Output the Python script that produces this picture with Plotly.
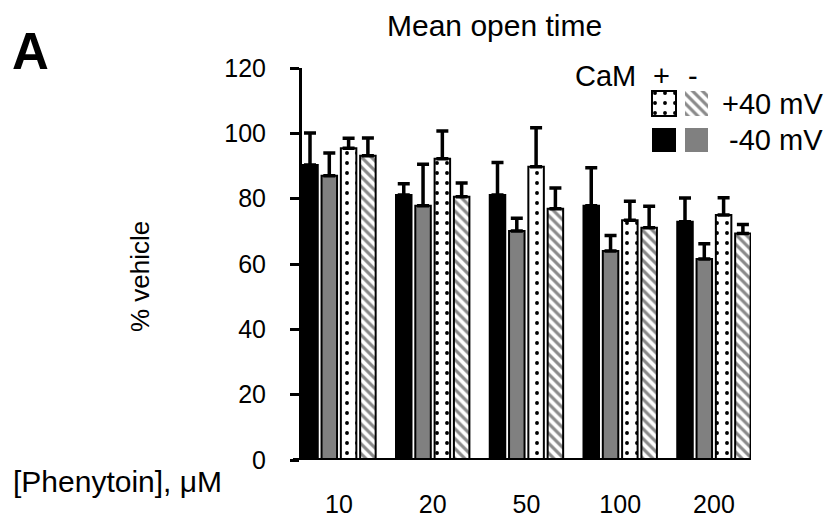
import plotly.graph_objects as go

# ---------------- data ----------------
concentrations = ["10", "20", "50", "100", "200"]

neg40_cam_plus = [90.3, 81.1, 81.1, 77.8, 72.9]
neg40_cam_plus_err = [9.8, 3.5, 10.0, 11.7, 7.3]
neg40_cam_minus = [87.0, 77.8, 70.1, 64.0, 61.5]
neg40_cam_minus_err = [7.0, 12.7, 3.9, 4.7, 4.7]
pos40_cam_plus = [95.4, 92.2, 89.8, 73.4, 75.0]
pos40_cam_plus_err = [3.1, 8.5, 11.9, 5.8, 5.3]
pos40_cam_minus = [93.1, 80.6, 76.9, 71.1, 69.3]
pos40_cam_minus_err = [5.5, 4.2, 6.4, 6.6, 2.8]

y_ticks = [0, 20, 40, 60, 80, 100, 120]

# ---------------- layout geometry ----------------
W, H = 834, 524
L, R, T, B = 302, 83, 68, 64
PW, PH = W - L - R, H - T - B
FONT = "Liberation Sans, Arial, sans-serif"

GROUP_PITCH = 93.75
BAR_PITCH = 19.3
BAR_W = 15.5
OFFSET0 = 8.0


def px_x(p):
    return (p - L) / PW


def px_y(p):
    return (H - B - p) / PH


def positions(j):
    return [OFFSET0 + GROUP_PITCH * g + BAR_PITCH * j for g in range(len(concentrations))]


tick_positions = [OFFSET0 + GROUP_PITCH * g + BAR_PITCH * 1.5 for g in range(len(concentrations))]

pattern_dots = dict(shape=".", fgcolor="black", bgcolor="white", size=10, solidity=0.12, fillmode="replace")
pattern_hatch = dict(shape="\\", fgcolor="#8a8a8a", bgcolor="white", size=7, solidity=0.45, fillmode="replace")

series = [
    (neg40_cam_plus, neg40_cam_plus_err, dict(color="black")),
    (neg40_cam_minus, neg40_cam_minus_err, dict(color="#808080")),
    (pos40_cam_plus, pos40_cam_plus_err, dict(color="white", pattern=pattern_dots)),
    (pos40_cam_minus, pos40_cam_minus_err, dict(color="white", pattern=pattern_hatch)),
]

fig = go.Figure()
for j, (vals, errs, mk) in enumerate(series):
    marker = dict(mk)
    marker["line"] = dict(color="black", width=2)
    fig.add_trace(go.Bar(
        x=positions(j), y=vals, width=BAR_W, marker=marker,
        error_y=dict(type="data", array=errs, arrayminus=[0] * len(errs), symmetric=False,
                     color="black", thickness=3.5, width=6),
        showlegend=False, hoverinfo="skip",
    ))

# legend swatches drawn in a small auxiliary subplot (pixel-like units)
sw_cols = [(652, 676), (685, 708)]
sw_rows = [(91, 116), (128, 152)]
sw_styles = [
    [dict(color="white", pattern=pattern_dots, line=dict(color="black", width=2)),
     dict(color="white", pattern=pattern_hatch, line=dict(width=0))],
    [dict(color="black", line=dict(width=0)),
     dict(color="#808080", line=dict(width=0))],
]
for r, (y0, y1) in enumerate(sw_rows):
    for c, (x0, x1) in enumerate(sw_cols):
        fig.add_trace(go.Bar(
            x=[(x0 + x1) / 2], y=[y1 - y0], base=[y0], width=[x1 - x0],
            marker=sw_styles[r][c], xaxis="x2", yaxis="y2",
            showlegend=False, hoverinfo="skip",
        ))


def ann(text, x, y, size, xanchor="center", **kw):
    return dict(text=text, x=px_x(x), y=px_y(y), xref="paper", yref="paper",
                xanchor=xanchor, yanchor="middle", showarrow=False,
                font=dict(size=size, family=FONT, color="black"), **kw)


fig.update_layout(
    width=W, height=H,
    margin=dict(l=L, r=R, t=T, b=B, autoexpand=False),
    paper_bgcolor="white", plot_bgcolor="white",
    barmode="overlay",
    font=dict(family=FONT, color="black"),
    xaxis=dict(range=[0, PW], showline=False, showgrid=False, zeroline=False, automargin=False,
               tickvals=tick_positions, ticktext=concentrations, ticks="",
               ticklabelstandoff=27, tickfont=dict(size=25, family=FONT)),
    yaxis=dict(range=[0, 120], tickvals=y_ticks, showline=True, linewidth=3, linecolor="black",
               ticks="outside", ticklen=9, tickwidth=3, tickcolor="black", automargin=False,
               showgrid=False, zeroline=False, ticklabelstandoff=19,
               tickfont=dict(size=25, family=FONT)),
    xaxis2=dict(domain=[px_x(650), px_x(710)], range=[650, 710], visible=False, anchor="y2",
                automargin=False),
    yaxis2=dict(domain=[px_y(155), px_y(88)], range=[155, 88], visible=False, anchor="x2",
                automargin=False),
    shapes=[dict(type="line", xref="paper", yref="y", x0=px_x(293), x1=px_x(751), y0=0, y1=0,
                 line=dict(color="black", width=4), layer="above")],
    annotations=[
        ann("Mean open time", 494, 25, 30),
        ann("<b>A</b>", 30, 52, 51),
        ann("% vehicle", 140, 277, 26, textangle=-90),
        ann("[Phenytoin], μM", 11, 482, 30, xanchor="left"),
        ann("CaM", 638, 76, 29, xanchor="right"),
        ann("+", 661, 76, 29),
        ann("-", 693, 76, 29),
        ann("+40 mV", 825, 104, 29, xanchor="right"),
        ann("-40 mV", 825, 140, 29, xanchor="right"),
    ],
)

fig.write_html(
    "out.html",
    config={"displayModeBar": False, "staticPlot": True},
    post_script="document.body.style.margin='0';document.body.style.overflow='hidden';",
)
